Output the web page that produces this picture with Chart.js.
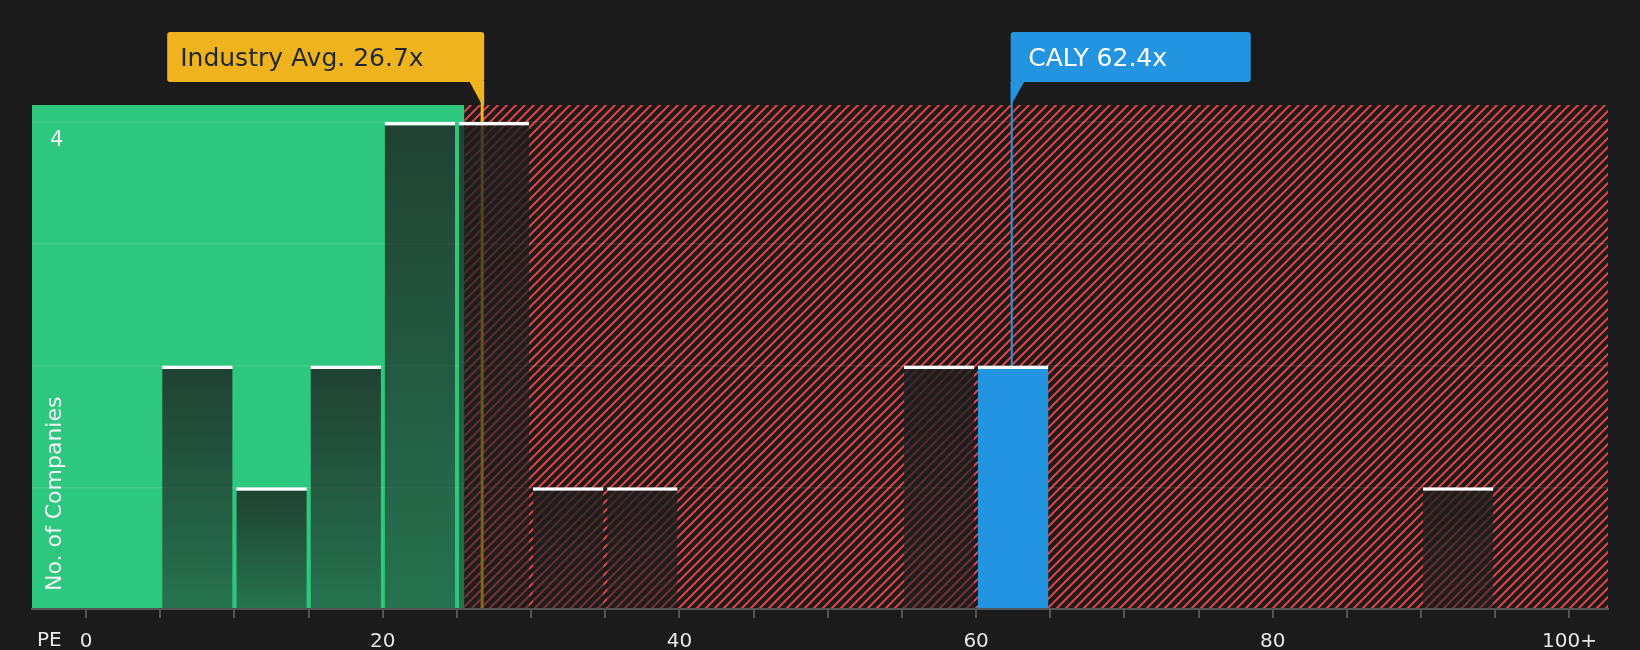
<!DOCTYPE html>
<html>
<head>
<meta charset="utf-8">
<script src="https://cdn.jsdelivr.net/npm/chart.js@4.4.1/dist/chart.umd.min.js"></script>
<style>
  body { margin: 0; background: #1b1b1b; }
  canvas { display: block; }
</style>
</head>
<body>
<canvas id="peChart" width="1640" height="650"></canvas>
<script>
// PE distribution of peers, bins are 5x wide
const binCenters = [7.5, 12.5, 17.5, 22.5, 27.5, 32.5, 37.5, 57.5, 62.5, 92.5];
const companyCounts = [2, 1, 2, 4, 4, 1, 1, 2, 2, 1];
const companyBin = 8; // CALY sits in the 60-65 bin

const xTickValues = [0, 5, 10, 15, 20, 25, 30, 35, 40, 45, 50, 55, 60, 65, 70, 75, 80, 85, 90, 95, 100];
const xLabelValues = [0, 20, 40, 60, 80, 100];
const xLabelTexts = ['0', '20', '40', '60', '80', '100+'];
const yTickValues = [0, 1, 2, 3, 4];

const industryAvg = 26.7;
const companyPE = 62.4;
const fairLimit = 25.5;
const xMin = -3.65, xMax = 102.6, yMax = 4.14;

const FONT = '"DejaVu Sans", sans-serif';

function hatchPattern(ctx) {
    const s = 9;
    const c = document.createElement('canvas');
    c.width = s; c.height = s;
    const p = c.getContext('2d');
    p.fillStyle = '#1b1b1b';
    p.fillRect(0, 0, s, s);
    p.strokeStyle = '#e04343';
    p.lineWidth = 2;
    p.beginPath();
    p.moveTo(0, s); p.lineTo(s, 0);
    p.moveTo(-2, 2); p.lineTo(2, -2);
    p.moveTo(s - 2, s + 2); p.lineTo(s + 2, s - 2);
    p.stroke();
    return ctx.createPattern(c, 'repeat');
}

function barFill(context) {
    if (context.type !== 'data') return 'rgba(29,31,30,0.7)';
    if (context.dataIndex === companyBin) return '#2394e0';
    const chart = context.chart;
    const y = chart.scales.y;
    if (!chart.chartArea || !y) return 'rgba(29,31,30,0.7)';
    const top = y.getPixelForValue(companyCounts[context.dataIndex]);
    const g = chart.ctx.createLinearGradient(0, top, 0, y.getPixelForValue(0));
    g.addColorStop(0, 'rgba(29,31,30,0.8)');
    g.addColorStop(1, 'rgba(29,31,30,0.5)');
    return g;
}

// green / hatched red background zones
const zones = {
    id: 'zones',
    beforeDraw(chart) {
        const {ctx, chartArea: a, scales: {x}} = chart;
        const split = x.getPixelForValue(fairLimit);
        ctx.save();
        ctx.fillStyle = '#2ec77f';
        ctx.fillRect(a.left, a.top, split - a.left, a.bottom - a.top);
        ctx.fillStyle = hatchPattern(ctx);
        ctx.fillRect(split, a.top, a.right - split, a.bottom - a.top);
        ctx.restore();
    }
};

const boxBottom = 82;

// marker lines go under the bars
const markerLines = {
    id: 'markerLines',
    beforeDatasetsDraw(chart) {
        const {ctx, chartArea: a, scales: {x}} = chart;
        ctx.save();
        ctx.strokeStyle = '#efb31d';
        ctx.lineWidth = 3;
        ctx.beginPath();
        ctx.moveTo(x.getPixelForValue(industryAvg), boxBottom);
        ctx.lineTo(x.getPixelForValue(industryAvg), a.bottom - 1);
        ctx.stroke();
        ctx.strokeStyle = '#2394e0';
        ctx.lineWidth = 2;
        ctx.beginPath();
        ctx.moveTo(x.getPixelForValue(companyPE), boxBottom);
        ctx.lineTo(x.getPixelForValue(companyPE), a.bottom - 1);
        ctx.stroke();
        ctx.restore();
    }
};

const labels = {
    id: 'labels',
    afterDraw(chart) {
        const {ctx, chartArea: a, scales: {x, y}} = chart;
        ctx.save();

        // industry avg callout
        const ix = x.getPixelForValue(industryAvg);
        const iRight = ix + 2, iLeft = iRight - 317;
        ctx.fillStyle = '#efb31d';
        ctx.beginPath();
        ctx.roundRect(iLeft, 32, iRight - iLeft, boxBottom - 32, 3);
        ctx.fill();
        ctx.beginPath();
        ctx.moveTo(iRight - 15, boxBottom - 1);
        ctx.lineTo(iRight, boxBottom - 1);
        ctx.lineTo(iRight, a.top);
        ctx.lineTo(ix, a.top);
        ctx.closePath();
        ctx.fill();
        ctx.fillStyle = '#1f2833';
        ctx.font = '25px ' + FONT;
        ctx.textBaseline = 'alphabetic';
        ctx.fillText('Industry Avg. 26.7x', iLeft + 13, 66);

        // company callout
        const cx = x.getPixelForValue(companyPE);
        const cLeft = cx - 1;
        ctx.fillStyle = '#2394e0';
        ctx.beginPath();
        ctx.roundRect(cLeft, 32, 240, boxBottom - 32, 3);
        ctx.fill();
        ctx.beginPath();
        ctx.moveTo(cLeft, boxBottom - 1);
        ctx.lineTo(cLeft + 14, boxBottom - 1);
        ctx.lineTo(cLeft + 1, a.top - 1);
        ctx.lineTo(cLeft, a.top - 1);
        ctx.closePath();
        ctx.fill();
        ctx.fillStyle = '#ffffff';
        ctx.fillText('CALY 62.4x', cLeft + 17.5, 66);

        // y axis bits drawn inside the plot
        ctx.fillStyle = '#f2f2f2';
        ctx.font = '21px ' + FONT;
        ctx.fillText('4', 50, y.getPixelForValue(4) + 24);

        ctx.font = '22px ' + FONT;
        ctx.translate(55, 591);
        ctx.rotate(-Math.PI / 2);
        ctx.textBaseline = 'middle';
        ctx.fillText('No. of Companies', 0, 0);
        ctx.setTransform(1, 0, 0, 1, 0, 0);

        ctx.fillStyle = '#e8e8e8';
        ctx.font = '20px ' + FONT;
        ctx.textBaseline = 'middle';
        ctx.fillText('PE', 37, 641);
        ctx.restore();
    }
};

new Chart(document.getElementById('peChart'), {
    type: 'bar',
    data: {
        datasets: [{
            data: binCenters.map((v, i) => ({x: v, y: companyCounts[i]})),
            backgroundColor: barFill,
            borderColor: '#ffffff',
            borderWidth: {top: 3.5, right: 0, bottom: 0, left: 0},
            barPercentage: 0.95,
            categoryPercentage: 1
        }]
    },
    options: {
        responsive: false,
        devicePixelRatio: 1,
        animation: false,
        layout: {padding: {left: 32, right: 32, top: 105, bottom: -16}},
        plugins: {legend: {display: false}, tooltip: {enabled: false}},
        scales: {
            x: {
                type: 'linear',
                min: xMin,
                max: xMax,
                offset: false,
                afterBuildTicks: (scale) => { scale.ticks = xTickValues.map(v => ({value: v})); },
                grid: {offset: false, drawOnChartArea: false, drawTicks: true, tickLength: 9, color: '#555555', lineWidth: 2},
                border: {display: true, color: '#555555', width: 2},
                ticks: {
                    autoSkip: false,
                    maxRotation: 0,
                    padding: 14,
                    color: '#e6e6e6',
                    font: {family: FONT, size: 20, lineHeight: 1},
                    callback: (v) => {
                        const k = xLabelValues.indexOf(v);
                        return k >= 0 ? xLabelTexts[k] : '';
                    }
                }
            },
            y: {
                min: 0,
                max: yMax,
                afterBuildTicks: (scale) => { scale.ticks = yTickValues.map(v => ({value: v})); },
                grid: {color: 'rgba(255,255,255,0.09)', lineWidth: 1.5, drawTicks: false},
                border: {display: false},
                ticks: {display: false}
            }
        }
    },
    plugins: [zones, markerLines, labels]
});
</script>
</body>
</html>
